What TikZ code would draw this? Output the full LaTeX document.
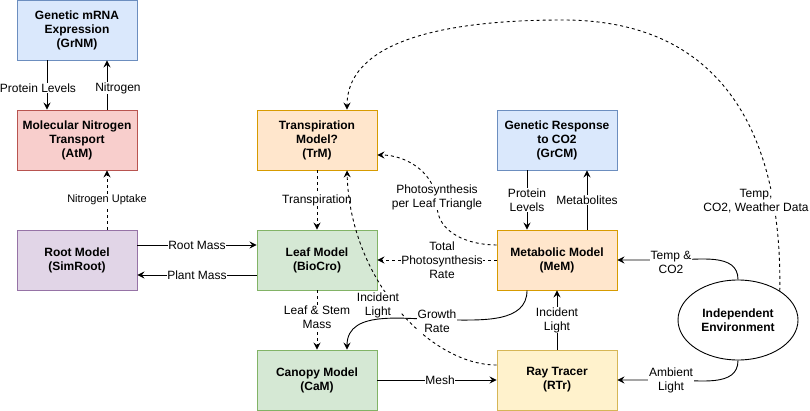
\documentclass[tikz,border=0pt]{standalone}
\usepackage{fontspec}
\setmainfont{Liberation Sans}
\usetikzlibrary{arrows.meta,shapes.geometric}
\definecolor{fblue}{HTML}{DAE8FC}\definecolor{sblue}{HTML}{6C8EBF}
\definecolor{fred}{HTML}{F8CECC}\definecolor{sred}{HTML}{B85450}
\definecolor{forange}{HTML}{FFE6CC}\definecolor{sorange}{HTML}{D79B00}
\definecolor{fpurple}{HTML}{E1D5E7}\definecolor{spurple}{HTML}{9673A6}
\definecolor{fgreen}{HTML}{D5E8D4}\definecolor{sgreen}{HTML}{82B366}
\definecolor{fyellow}{HTML}{FFF2CC}\definecolor{syellow}{HTML}{D6B656}
\begin{document}
\begin{tikzpicture}[x=1pt,y=-1pt,
  box/.style={draw, line width=0.9pt, minimum width=120pt, minimum height=60pt, inner sep=0pt, align=center, font=\fontsize{12pt}{14pt}\selectfont\bfseries},
  bbox/.style={box, fill=fblue, draw=sblue},
  rbox/.style={box, fill=fred, draw=sred},
  obox/.style={box, fill=forange, draw=sorange},
  pbox/.style={box, fill=fpurple, draw=spurple},
  gbox/.style={box, fill=fgreen, draw=sgreen},
  ybox/.style={box, fill=fyellow, draw=syellow},
  envnode/.style={draw, ellipse, line width=0.9pt, minimum width=120pt, minimum height=80pt, inner sep=0pt, align=center, font=\fontsize{12pt}{14pt}\selectfont\bfseries},
  lbl/.style={fill=white, inner sep=0.6pt, align=center, font=\fontsize{12pt}{14pt}\selectfont},
  slbl/.style={lbl, font=\fontsize{11pt}{13pt}\selectfont},
  arr/.style={line width=0.9pt, -{Stealth[length=7pt,width=7pt,inset=2.5pt]}},
  dsh/.style={arr, dash pattern=on 3pt off 3pt}
]
\useasboundingbox (0,0) rectangle (810,411);
\fill[white] (0,0) rectangle (810,411);

\node[bbox] (grnm) at (77,30) {Genetic mRNA\\Expression\\(GrNM)};
\node[rbox] (atm) at (77,140) {Molecular Nitrogen\\Transport\\(AtM)};
\node[obox] (trm) at (317,140) {Transpiration\\Model?\\(TrM)};
\node[bbox] (grcm) at (557,140) {Genetic Response\\to CO2\\(GrCM)};
\node[pbox] (root) at (77,260) {Root Model\\(SimRoot)};
\node[gbox] (leaf) at (317,260) {Leaf Model\\(BioCro)};
\node[obox] (mem) at (557,260) {Metabolic Model\\(MeM)};
\node[gbox] (cam) at (317,380) {Canopy Model\\(CaM)};
\node[ybox] (rtr) at (557,380) {Ray Tracer\\(RTr)};
\node[envnode] (env) at (738,320) {Independent\\Environment};

% GrNM <-> AtM
\draw[arr] ([xshift=-30pt]grnm.south) -- ([xshift=-30pt]atm.north);
\draw[arr] ([xshift=30pt]atm.north) -- ([xshift=30pt]grnm.south);
\node[lbl] (lpl) at (38,88) {Protein Levels};
\node[lbl] (lni) at (118,88) {Nitrogen};

% Root -> AtM
\draw[dsh] ([xshift=30pt]root.north) -- node[slbl]{Nitrogen Uptake} ([xshift=30pt]atm.south);

% Root <-> Leaf
\draw[arr] ([yshift=15pt]root.east) -- node[lbl]{Root Mass} ([yshift=15pt]leaf.west);
\draw[arr] ([yshift=-15pt]leaf.west) -- node[lbl]{Plant Mass} ([yshift=-15pt]root.east);

% TrM -> Leaf, Leaf -> Canopy
\draw[dsh] (trm.south) -- node[lbl]{Transpiration} (leaf.north);
\draw[dsh] (leaf.south) -- node[lbl, yshift=3pt]{Leaf \& Stem\\Mass} (cam.north);

% GrCM <-> MeM
\draw[arr] ([xshift=-30pt]grcm.south) -- node[lbl]{Protein\\Levels} ([xshift=-30pt]mem.north);
\draw[arr] ([xshift=30pt]mem.north) -- node[lbl]{Metabolites} ([xshift=30pt]grcm.south);

% MeM -> Leaf
\draw[dsh] (mem.west) -- node[lbl, xshift=5pt]{Total\\Photosynthesis\\Rate} (leaf.east);

% MeM -> TrM curve
\draw[dsh] ([yshift=15pt]mem.west) to[out=180,in=-90] (437,205) to[out=90,in=0] ([yshift=-15pt]trm.east);
\node[lbl] (lpt) at (437,197) {Photosynthesis\\per Leaf Triangle};

% RTr -> TrM curve
\draw[dsh] ([yshift=15pt]rtr.west) .. controls (430,365) and (350,280) .. ([xshift=30pt]trm.south);
\node[lbl] (lil) at (378,305) {Incident\\Light};

% MeM -> Canopy
\draw[arr] ([xshift=-30pt]mem.south) to[out=-90,in=0] (450,320) to[out=180,in=90] ([xshift=30pt]cam.north);
\node[lbl] (lgr) at (437,321) {Growth\\Rate};

% Canopy -> RTr
\draw[arr] (cam.east) -- node[lbl, xshift=3pt]{Mesh} (rtr.west);

% RTr -> MeM
\draw[arr] (rtr.north) -- node[lbl]{Incident\\Light} (mem.south);

% Env -> MeM, RTr
\draw[arr] (env.north) to[out=90,in=0] (671,260) -- (mem.east);
\node[lbl] (ltc) at (671,262) {Temp \&\\CO2};
\draw[arr] (env.south) to[out=-90,in=0] (671,380) -- (rtr.east);
\node[lbl] (lal) at (671,380) {Ambient\\Light};

% Env -> TrM big curve
\draw[dsh] (env.35) .. controls (782,160) and (740,20) .. (563,20) .. controls (420,20) and (347,50) .. ([xshift=30pt]trm.north);
\node[lbl] (lwd) at (756,201) {Temp,\\CO2, Weather Data};
\end{tikzpicture}
\end{document}
